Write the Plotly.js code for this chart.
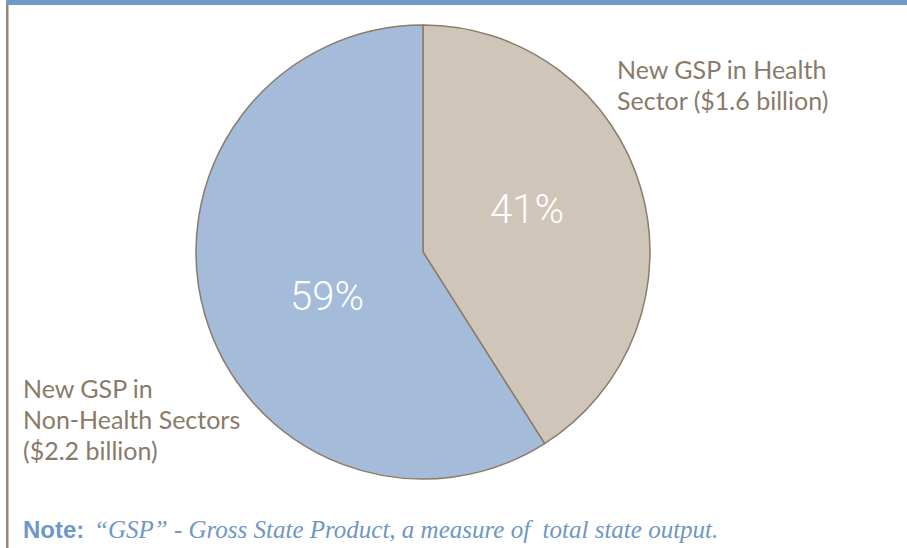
<!DOCTYPE html>
<html><head><meta charset="utf-8">
<script src="https://cdn.plot.ly/plotly-3.0.1.min.js"></script>
<style>html,body{margin:0;padding:0;background:#fff}#chart{width:907px;height:548px}</style>
</head><body><div id="chart"></div>
<script>
const categories = ["New GSP in Health Sector ($1.6 billion)", "New GSP in Non-Health Sectors ($2.2 billion)"];
const shares = [41, 59];
const pctLabels = ["41%", "59%"];
const healthLabelLines = ["New GSP in Health", "Sector ($1.6 billion)"];
const nonHealthLabelLines = ["New GSP in", "Non-Health Sectors", "($2.2 billion)"];
const noteLead = "Note:";
const noteText = "“GSP” - Gross State Product, a measure of  total state output.";
const sliceColors = ["#CFC5B9", "#A4BBDA"];

const W = 907, H = 548;
const cx = 423, cy = 252, r = 227;

const data = [{
  type: 'pie',
  values: shares,
  labels: categories,
  textinfo: 'none',
  sort: false,
  direction: 'clockwise',
  rotation: 0,
  marker: {colors: sliceColors, line: {color: '#8B7B6B', width: 1.5}},
  domain: {x: [(cx - r) / W, (cx + r) / W], y: [(H - cy - r) / H, (H - cy + r) / H]},
  hoverinfo: 'none'
}];

const labelFont = {family: 'Lato, sans-serif', size: 25, color: '#8A7A6A'};
const pctFont = {family: 'Roboto, sans-serif', size: 40, color: '#ffffff', weight: 300};
const pctPos = [[527, 209], [327, 296]];
const lineGap = 31;

function lineAnns(lines, x, yCenterFirst) {
  return lines.map((t, i) => ({
    xref: 'paper', yref: 'paper', x: x / W, y: 1 - (yCenterFirst + i * lineGap) / H,
    xanchor: 'left', yanchor: 'middle', align: 'left', text: t, showarrow: false, font: labelFont
  }));
}

const layout = {
  width: W, height: H,
  margin: {l: 0, r: 0, t: 0, b: 0},
  paper_bgcolor: '#ffffff',
  showlegend: false,
  shapes: [
    {type: 'rect', xref: 'paper', yref: 'paper', x0: 6 / W, x1: 1, y0: 1 - 5 / H, y1: 1, fillcolor: '#7099C8', line: {width: 0}},
    {type: 'rect', xref: 'paper', yref: 'paper', x0: 6 / W, x1: 8.5 / W, y0: 0, y1: 1 - 5 / H, fillcolor: '#978676', line: {width: 0}}
  ],
  annotations: [].concat(
    lineAnns(healthLabelLines, 615, 69),
    lineAnns(nonHealthLabelLines, 21, 388),
    [
      {xref: 'paper', yref: 'paper', x: 21 / W, y: 1 - 545 / H, xanchor: 'left', yanchor: 'bottom', align: 'left',
       text: '<b>' + noteLead + '</b>', showarrow: false, font: {family: 'Liberation Sans, Arial, sans-serif', size: 24, color: '#6F96C6'}},
      {xref: 'paper', yref: 'paper', x: 92 / W, y: 1 - 545 / H, xanchor: 'left', yanchor: 'bottom', align: 'left',
       text: '<i>' + noteText + '</i>', showarrow: false,
       font: {family: 'Liberation Serif, Times New Roman, serif', size: 25, color: '#6F96C6'}}
    ],
    pctLabels.map((t, i) => ({
      xref: 'paper', yref: 'paper', x: pctPos[i][0] / W, y: 1 - pctPos[i][1] / H, xanchor: 'center', yanchor: 'middle',
      text: t, showarrow: false, font: pctFont}))
  )
};
Plotly.newPlot('chart', data, layout, {displayModeBar: false, staticPlot: true});
</script></body></html>
